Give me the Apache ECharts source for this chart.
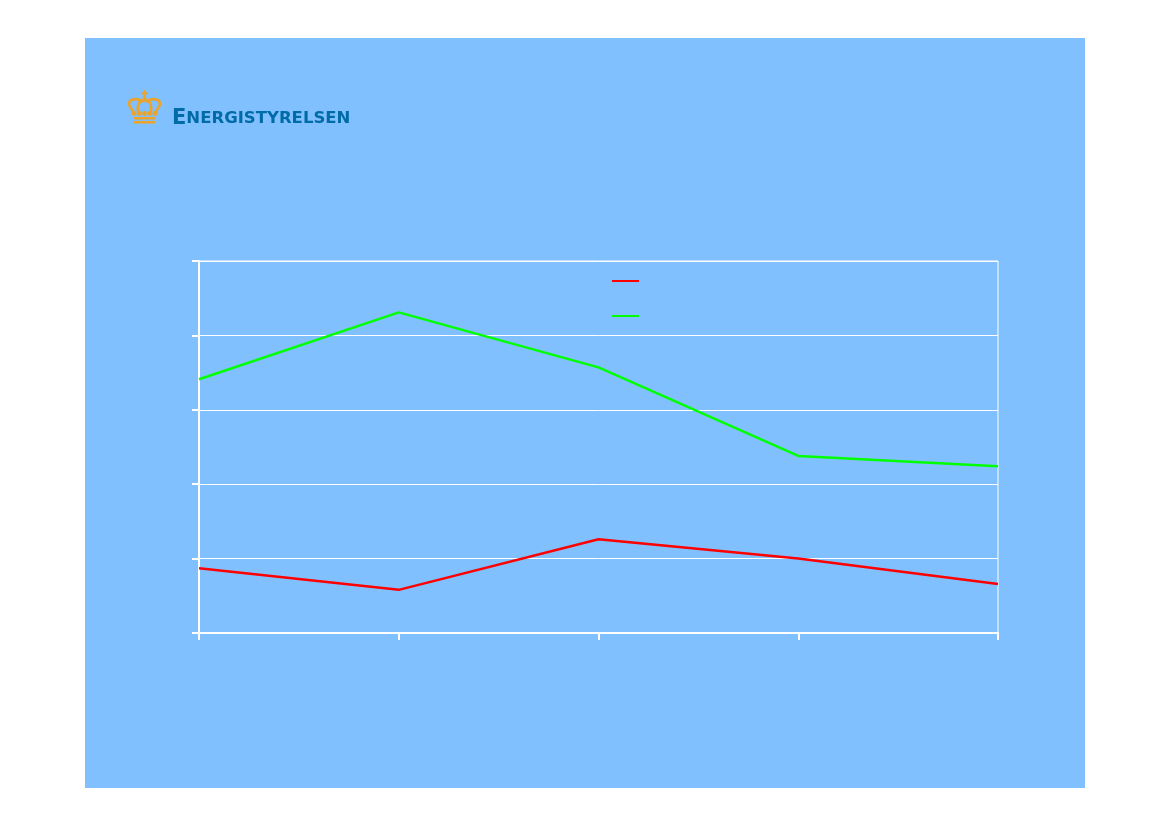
<!DOCTYPE html>
<html>
<head>
<meta charset="utf-8">
<title>Energistyrelsen</title>
<script src="https://cdn.jsdelivr.net/npm/echarts@6/dist/echarts.min.js"></script>
<style>
  html, body { margin: 0; padding: 0; background: #fff; }
  #chart { position: absolute; left: 85px; top: 38px; width: 1000px; height: 750px; }
</style>
</head>
<body>
<div id="chart"></div>
<script>
// No labels are legible in the reference, so categories and names are neutral
const categories = ['1', '2', '3', '4', '5'];
const redValues = [0.87, 0.58, 1.26, 1.0, 0.66];
const greenValues = [3.41, 4.31, 3.57, 2.38, 2.24];
const redName = 'Serie 1';
const greenName = 'Serie 2';

const white = '#ffffff';
const gold = '#eca328';
const logoBlue = '#006ba6';

const chart = echarts.init(document.getElementById('chart'));

// Crown for the logo, positions are relative to the chart's panel
const crownCurve = (x1, y1, cpx1, cpy1, cpx2, cpy2, x2, y2) => ({
  type: 'bezierCurve',
  shape: { x1, y1, cpx1, cpy1, cpx2, cpy2, x2, y2 },
  style: { fill: 'none', stroke: gold, lineWidth: 2.6 }
});
const crownDot = (cx, cy, r) => ({
  type: 'circle',
  shape: { cx, cy, r },
  style: { fill: gold }
});
const crownBar = (x, y, width, height) => ({
  type: 'rect',
  shape: { x, y, width, height },
  style: { fill: gold }
});

chart.setOption({
  backgroundColor: '#80c0ff',
  animation: false,
  legend: {
    left: 522,
    top: 237,
    orient: 'vertical',
    icon: 'rect',
    itemWidth: 27,
    itemHeight: 2,
    itemGap: 33,
    selectedMode: false,
    formatter: () => '',
    data: [redName, greenName]
  },
  grid: {
    left: 114,
    top: 223,
    width: 799,
    height: 372,
    show: true,
    backgroundColor: 'transparent',
    borderColor: white,
    borderWidth: 1
  },
  xAxis: {
    type: 'category',
    boundaryGap: false,
    data: categories,
    axisLine: { lineStyle: { color: white, width: 2 } },
    axisTick: { show: true, length: 7, lineStyle: { color: white, width: 2 } },
    axisLabel: { show: false },
    splitLine: { show: false }
  },
  yAxis: {
    type: 'value',
    min: 0,
    max: 5,
    interval: 1,
    axisLine: { show: true, lineStyle: { color: white, width: 2 } },
    axisTick: { show: true, length: 7, lineStyle: { color: white, width: 2 } },
    axisLabel: { show: false },
    splitLine: { show: true, lineStyle: { color: white, width: 1 } }
  },
  series: [
    {
      name: redName,
      type: 'line',
      symbol: 'none',
      lineStyle: { color: '#ff0000', width: 2.5 },
      itemStyle: { color: '#ff0000' },
      data: redValues
    },
    {
      name: greenName,
      type: 'line',
      symbol: 'none',
      lineStyle: { color: '#00ff00', width: 2.5 },
      itemStyle: { color: '#00ff00' },
      data: greenValues
    }
  ],
  graphic: [
    {
      type: 'group',
      children: [
        crownBar(58.5, 52, 2, 9),
        crownBar(56, 54.5, 7, 2),
        crownDot(59.5, 61, 2.2),
        crownCurve(59.5, 63, 54, 62, 52, 67, 53, 74),
        crownCurve(59.5, 63, 65, 62, 67, 67, 66, 74),
        crownCurve(56, 62.5, 50, 60, 44, 61, 44, 66),
        crownCurve(63, 62.5, 69, 60, 75, 61, 75, 66),
        crownCurve(44, 66, 44, 69, 47, 70, 48, 74),
        crownCurve(75, 66, 75, 69, 72, 70, 71, 74),
        crownDot(49, 75.5, 2.4),
        crownDot(54, 75.5, 2.4),
        crownDot(59.5, 75.5, 2.4),
        crownDot(65, 75.5, 2.4),
        crownDot(70, 75.5, 2.4),
        crownBar(49, 79, 21, 2.5),
        crownBar(49, 83, 21, 2.5),
        {
          type: 'text',
          x: 87,
          y: 81,
          style: {
            text: '{a|E}{b|NERGISTYRELSEN}',
            verticalAlign: 'middle',
            rich: {
              a: { fontFamily: 'DejaVu Sans', fontWeight: 'bold', fontSize: 21, fill: logoBlue },
              b: { fontFamily: 'DejaVu Sans', fontWeight: 'bold', fontSize: 16.5, fill: logoBlue }
            }
          }
        }
      ]
    }
  ]
});
</script>
</body>
</html>
